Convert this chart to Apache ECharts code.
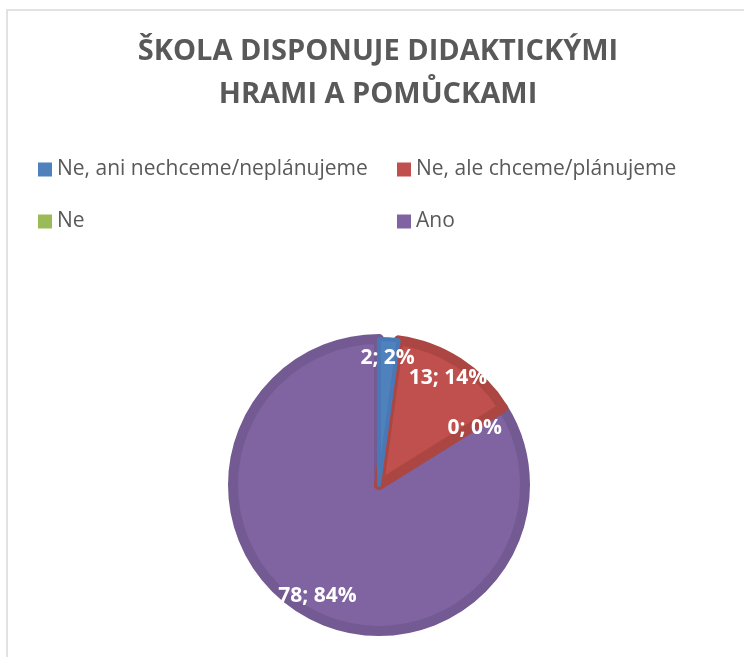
<!DOCTYPE html>
<html>
<head>
<meta charset="utf-8">
<script src="https://cdn.jsdelivr.net/npm/echarts@6/dist/echarts.min.js"></script>
<style>
    html, body { margin: 0; padding: 0; background: #fff; }
    #chart { width: 744px; height: 657px; }
</style>
</head>
<body>
<div id="chart"></div>
<script>
var titleText = 'ŠKOLA DISPONUJE DIDAKTICKÝMI\nHRAMI A POMŮCKAMI';
var categories = ['Ne, ani nechceme/neplánujeme', 'Ne, ale chceme/plánujeme', 'Ne', 'Ano'];
var counts = [2, 13, 0, 78];
var percents = [2, 14, 0, 84];
var fillColors = ['#4F81BD', '#C0504D', '#9BBB59', '#8064A2'];
var edgeColors = ['#4878B5', '#AC4642', '#87A54A', '#735A92'];
var edgeWidths = [4, 10, 0, 10];

function initChart() {
    var chart = echarts.init(document.getElementById('chart'));
    var font = '"Open Sans", "DejaVu Sans", sans-serif';

    // slices are fed in reverse and laid out counter-clockwise:
    // same geometry as Excel, but the small blue slice is drawn last
    var pieData = [];
    var labelData = [];
    for (var i = categories.length - 1; i >= 0; i--) {
        pieData.push({
            name: categories[i],
            value: counts[i],
            itemStyle: {
                color: fillColors[i],
                borderColor: edgeColors[i],
                borderWidth: edgeWidths[i]
            }
        });
        var lbl = { formatter: counts[i] + '; ' + percents[i] + '%' };
        if (counts[i] === 0) {
            // Excel pulls the empty slice label a bit inward
            lbl.formatter = '\n' + lbl.formatter;
            lbl.padding = [0, 24, 0, 0];
        }
        labelData.push({ name: categories[i], value: counts[i], label: lbl });
    }

    var legendText = { color: '#595959', fontSize: 21, fontFamily: font, lineHeight: 20 };

    var option = {
        animation: false,
        color: fillColors,
        title: {
            text: titleText,
            left: 378,
            top: 30,
            padding: 0,
            textAlign: 'center',
            textStyle: {
                color: '#595959',
                fontSize: 29,
                fontWeight: 'bold',
                fontFamily: font,
                lineHeight: 43
            }
        },
        legend: [
            {
                orient: 'vertical',
                left: 38,
                top: 159,
                padding: 0,
                itemWidth: 14,
                itemHeight: 14,
                itemGap: 31,
                icon: 'rect',
                itemStyle: { borderWidth: 0 },
                textStyle: legendText,
                data: [categories[0], categories[2]]
            },
            {
                orient: 'vertical',
                left: 397,
                top: 159,
                padding: 0,
                itemWidth: 14,
                itemHeight: 14,
                itemGap: 31,
                icon: 'rect',
                itemStyle: { borderWidth: 0 },
                textStyle: legendText,
                data: [categories[1], categories[3]]
            }
        ],
        graphic: [{
            type: 'rect',
            shape: { x: 7, y: 10, width: 800, height: 700 },
            style: { fill: 'none', stroke: '#D9D9D9', lineWidth: 1.5 },
            silent: true
        }],
        series: [
            {
                type: 'pie',
                center: [379, 485],
                radius: [0, 146],
                startAngle: 90,
                clockwise: false,
                label: { show: false },
                labelLine: { show: false },
                data: pieData
            },
            {
                type: 'pie',
                center: [379, 485],
                radius: [97, 151],
                startAngle: 90,
                clockwise: false,
                silent: true,
                avoidLabelOverlap: false,
                legendHoverLink: false,
                labelLayout: { hideOverlap: false },
                itemStyle: { color: 'rgba(0,0,0,0)', borderWidth: 0 },
                label: {
                    show: true,
                    position: 'inside',
                    color: '#fff',
                    fontSize: 21,
                    lineHeight: 21,
                    fontWeight: 'bold',
                    fontFamily: font
                },
                labelLine: { show: false },
                data: labelData
            }
        ]
    };
    chart.setOption(option);
}

initChart();
</script>
</body>
</html>
